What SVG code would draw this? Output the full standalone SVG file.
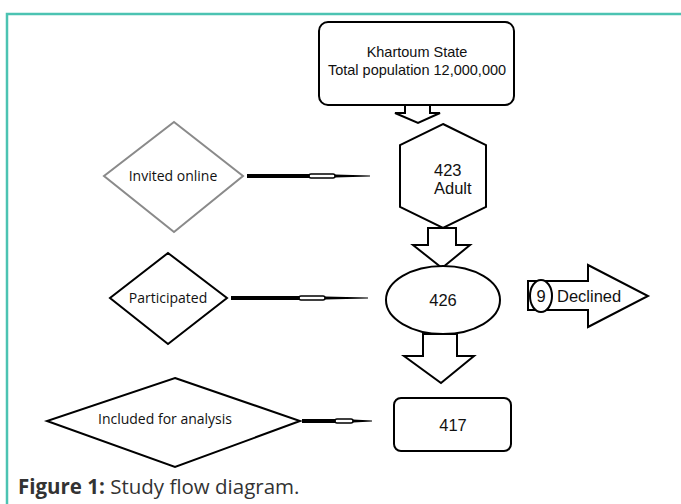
<svg xmlns="http://www.w3.org/2000/svg" width="681" height="504" viewBox="0 0 681 504">
<style>
.s{fill:#fff;stroke:#000;stroke-width:2}
.t{font-family:"Liberation Sans",Arial,sans-serif;font-size:14.5px;fill:#111}
.b{font-family:"Liberation Sans",Arial,sans-serif;font-size:16.5px;fill:#111}
.c{font-family:"Open Sans",Lato,sans-serif;font-size:14px;fill:#111}
.k{stroke:#000;fill:none}
</style>
<rect x="0" y="0" width="681" height="504" fill="#fff"/>
<path d="M7 504 V14 H681" fill="none" stroke="#4cc3b2" stroke-width="2.5"/>
<g id="connectors">
  <path class="s" d="M405 105 H430 V113 H440 L418 123 L395 113 H405 Z"/>
  <path class="s" d="M428 228 H456 V245 H470 L442 268 L413 245 H428 Z"/>
  <path class="s" d="M423 334 H457 V356 H474 L441 383 L404 356 H423 Z"/>
  <path class="s" d="M528 281 H588 V265 L648 296 L588 327 V310 H528 Z"/>
  <g id="c1">
    <line class="k" x1="247" y1="176" x2="310" y2="176" stroke-width="4"/>
    <rect x="309" y="174" width="26" height="4" rx="2" fill="#fff" stroke="#000" stroke-width="1.5"/>
    <path d="M335 174.5 L370 175.5 V176.5 L335 177.5 Z" fill="#000"/>
  </g>
  <g id="c2">
    <line class="k" x1="231" y1="298" x2="300" y2="298" stroke-width="4"/>
    <rect x="299" y="296" width="26" height="4" rx="2" fill="#fff" stroke="#000" stroke-width="1.5"/>
    <path d="M325 296.5 L368 297.5 V298.5 L325 299.5 Z" fill="#000"/>
  </g>
  <g id="c3">
    <line class="k" x1="302" y1="421" x2="336" y2="421" stroke-width="4"/>
    <rect x="335" y="419" width="18" height="4" rx="2" fill="#fff" stroke="#000" stroke-width="1.5"/>
    <path d="M353 419.5 L372 420.5 V421.5 L353 422.5 Z" fill="#000"/>
  </g>
</g>
<g id="n-khartoum">
  <rect class="s" x="319" y="22" width="195" height="83" rx="9"/>
  <text class="t" x="417" y="57" text-anchor="middle">Khartoum State</text>
  <text class="t" x="417" y="75" text-anchor="middle">Total population 12,000,000</text>
</g>
<g id="n-423">
  <path class="s" d="M443 124 L486 145 V207 L443 228 L400 207 V145 Z"/>
  <text class="b" x="434" y="176">423</text>
  <text class="b" x="434" y="194">Adult</text>
</g>
<g id="n-426">
  <ellipse class="s" cx="443" cy="300" rx="57" ry="34"/>
  <text class="b" x="443" y="306" text-anchor="middle">426</text>
</g>
<g id="n-declined">
  <ellipse cx="541" cy="296" rx="11" ry="16" fill="#fff" stroke="#000" stroke-width="2"/>
  <text class="b" x="541" y="302" text-anchor="middle">9</text>
  <text class="b" x="557" y="302">Declined</text>
</g>
<g id="n-417">
  <rect class="s" x="394" y="398" width="117" height="53" rx="7"/>
  <text class="b" x="453" y="431" text-anchor="middle">417</text>
</g>
<g id="n-invited">
  <path d="M174 122 L243 176 L174 232 L104 176 Z" fill="#fff" stroke="#8a8a8a" stroke-width="2"/>
  <text class="c" x="173" y="181" text-anchor="middle" font-size="15">Invited online</text>
</g>
<g id="n-participated">
  <path d="M168 253 L227 298 L168 344 L110 298 Z" class="s"/>
  <text class="c" x="168" y="303" text-anchor="middle">Participated</text>
</g>
<g id="n-included">
  <path d="M175 378 L300 421 L175 467 L47 421 Z" class="s"/>
  <text class="c" x="165" y="424" text-anchor="middle">Included for analysis</text>
</g>
<text x="18" y="494" font-family="'Open Sans',Lato,sans-serif" font-size="20.5" fill="#333"><tspan font-weight="bold">Figure 1:</tspan> Study flow diagram.</text>
</svg>
